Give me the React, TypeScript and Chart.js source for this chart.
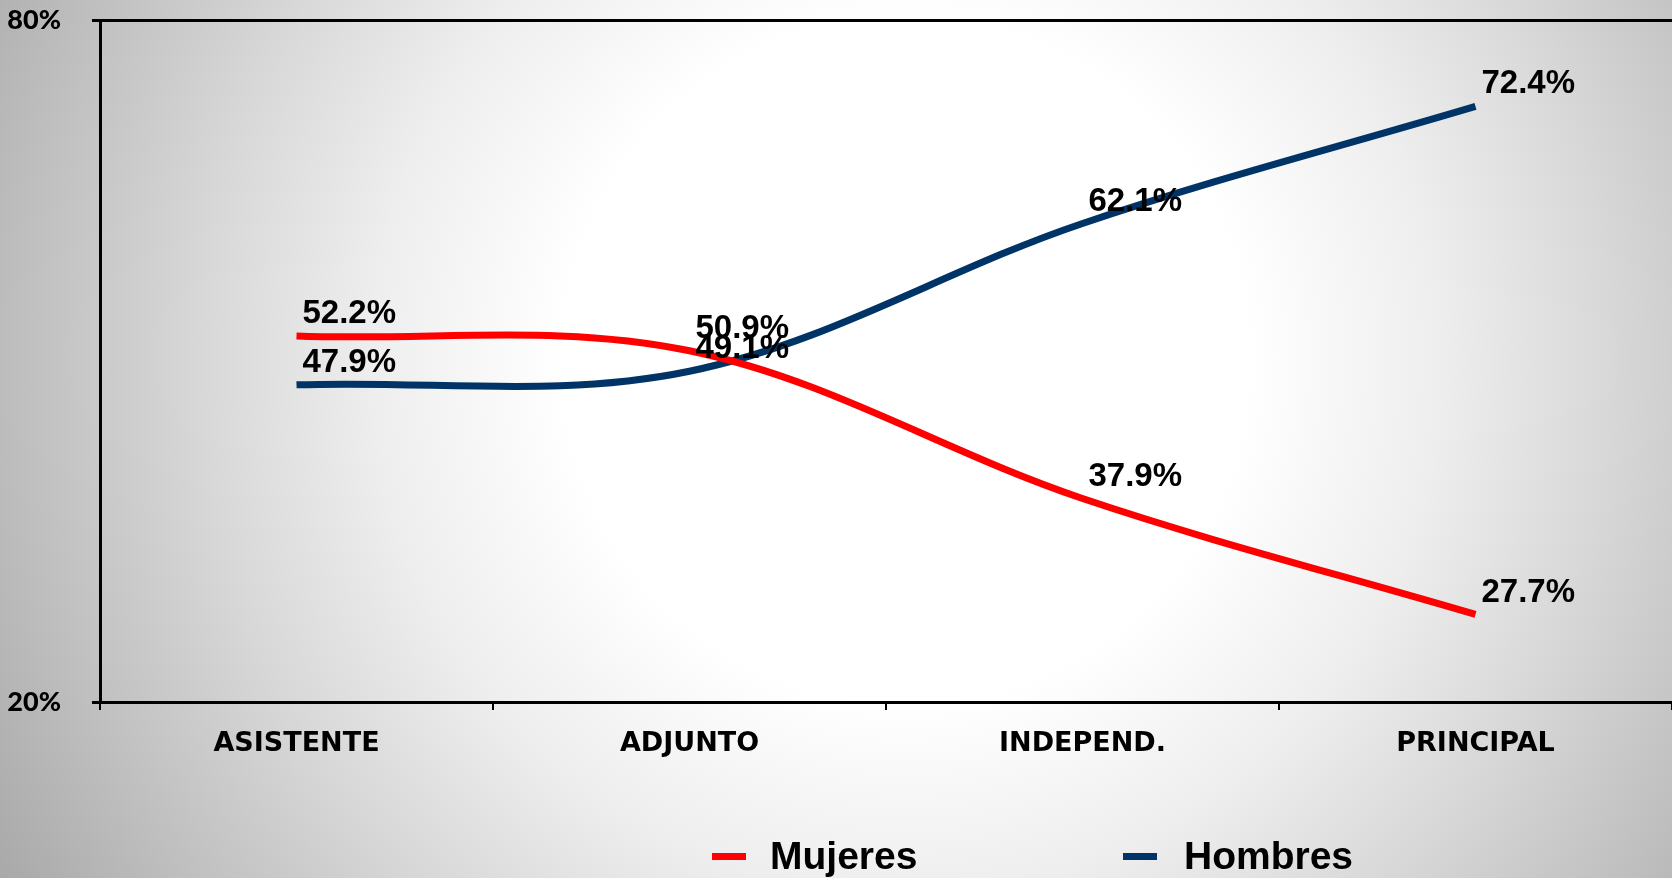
import React, { useEffect, useRef } from "react";
import { Chart, registerables } from "chart.js";

Chart.register(...registerables);

const categories = ["ASISTENTE", "ADJUNTO", "INDEPEND.", "PRINCIPAL"];
const mujeres = [52.2, 50.9, 37.9, 27.7];
const hombres = [47.9, 49.1, 62.1, 72.4];
const seriesNames = ["Mujeres", "Hombres"];
const seriesColors = ["#ff0000", "#003366"];
const yMin = 20;
const yMax = 80;

const labelPlugin = {
  id: "pointLabels",
  afterDatasetsDraw(chart: any) {
    const ctx = chart.ctx;
    ctx.save();
    ctx.font = "bold 33px 'Liberation Sans', Arial, sans-serif";
    ctx.fillStyle = "#000";
    ctx.textAlign = "left";
    ctx.textBaseline = "middle";
    chart.data.datasets.forEach((ds: any, di: number) => {
      const meta = chart.getDatasetMeta(di);
      meta.data.forEach((pt: any, i: number) => {
        ctx.fillText(ds.data[i].toFixed(1) + "%", pt.x + 6, pt.y - 22);
      });
    });
    ctx.restore();
  },
};

const legendPlugin = {
  id: "customLegend",
  afterDraw(chart: any) {
    const ctx = chart.ctx;
    const items = [
      { sx: 712, tx: 770 },
      { sx: 1123, tx: 1184 },
    ];
    ctx.save();
    ctx.font = "bold 39px 'Liberation Sans', Arial, sans-serif";
    ctx.textBaseline = "alphabetic";
    ctx.textAlign = "left";
    items.forEach((it, i) => {
      ctx.fillStyle = seriesColors[i];
      ctx.fillRect(it.sx, 853, 34, 7);
      ctx.fillStyle = "#000";
      ctx.fillText(seriesNames[i], it.tx, 869);
    });
    ctx.restore();
  },
};

export default function App() {
  const ref = useRef<HTMLCanvasElement>(null);
  useEffect(() => {
    if (!ref.current) return;
    const chart = new Chart(ref.current, {
      type: "line",
      data: {
        labels: categories,
        datasets: [
          {
            label: seriesNames[0],
            data: mujeres,
            borderColor: seriesColors[0],
            backgroundColor: seriesColors[0],
            borderWidth: 7,
            pointRadius: 0,
            tension: 0.35,
            fill: false,
          },
          {
            label: seriesNames[1],
            data: hombres,
            borderColor: seriesColors[1],
            backgroundColor: seriesColors[1],
            borderWidth: 7,
            pointRadius: 0,
            tension: 0.35,
            fill: false,
          },
        ],
      },
      options: {
        animation: false,
        responsive: true,
        maintainAspectRatio: false,
        layout: { padding: { left: 0, top: 20, right: 0, bottom: 0 } },
        plugins: { legend: { display: false }, tooltip: { enabled: false } },
        scales: {
          x: {
            offset: true,
            grid: {
              offset: true,
              drawOnChartArea: false,
              tickLength: 8,
              color: "#000",
              lineWidth: 2,
            },
            border: { color: "#000", width: 3 },
            ticks: {
              color: "#000",
              padding: 18,
              font: { family: "'DejaVu Sans', sans-serif", weight: "bold", size: 27 },
            },
            afterFit(scale: any) {
              scale.height = 176;
              scale.paddingLeft = 0;
              scale.paddingRight = 0;
            },
          },
          y: {
            min: yMin,
            max: yMax,
            ticks: {
              stepSize: 60,
              color: "#000",
              padding: 31,
              font: { family: "Lato, sans-serif", weight: 900, size: 27 },
              callback: (v: any) => v + "%",
            },
            grid: { color: "#000", lineWidth: 3, tickLength: 8 },
            border: { color: "#000", width: 3 },
            afterFit(scale: any) {
              scale.width = 100;
              scale.paddingTop = 0;
              scale.paddingBottom = 0;
            },
          },
        },
      },
      plugins: [labelPlugin, legendPlugin],
    });
    return () => chart.destroy();
  }, []);

  return (
    <div
      style={{
        position: "fixed",
        left: 0,
        top: 0,
        width: 1672,
        height: 878,
        background:
          "radial-gradient(circle 950px at 906px 360px, #ffffff 0%, #ffffff 36%, #eeeeee 56%, #d8d8d8 74%, #bebebe 94%, #a2a2a2 115%)",
      }}
    >
      <canvas ref={ref} />
    </div>
  );
}
